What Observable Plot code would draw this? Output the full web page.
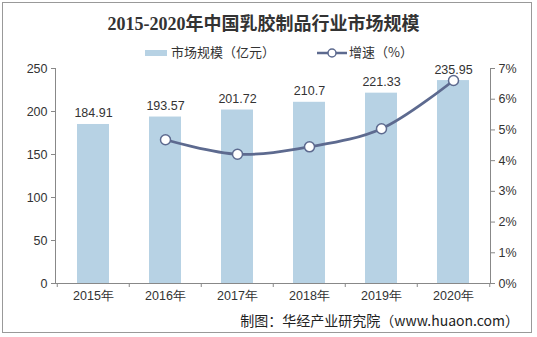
<!DOCTYPE html>
<html><head><meta charset="utf-8">
<script src="https://cdn.jsdelivr.net/npm/d3@7"></script>
<script src="https://cdn.jsdelivr.net/npm/@observablehq/plot@0.6"></script>
<style>
body{margin:0;background:#fff;}
#wrap{position:relative;width:537px;height:337px;overflow:hidden;font-family:"Liberation Sans","Noto Sans CJK SC",sans-serif;}
#frame{position:absolute;left:2px;top:2px;width:530px;height:331px;border:1px solid #999;box-sizing:border-box;}
#title{position:absolute;left:0;width:527px;top:9px;text-align:center;font-family:"Liberation Serif","Noto Sans CJK SC",serif;font-weight:bold;font-size:18px;color:#333;}
.leg{position:absolute;top:43px;font-size:13px;color:#333;font-family:"Noto Sans CJK SC",sans-serif;line-height:18px;}
#cap{position:absolute;right:18px;top:310px;font-size:14px;color:#222;font-family:"Noto Sans CJK SC",sans-serif;}
#chart{position:absolute;left:0;top:0;}
</style></head>
<body>
<div id="wrap">
  <div id="chart"></div>
  <div id="frame"></div>
  <div id="title"></div>
  <div class="leg" style="left:145px"><span style="display:inline-block;width:22px;height:6px;background:#b7d2e4;vertical-align:middle;margin-right:4px"></span><span id="leg1"></span></div>
  <div class="leg" style="left:317px"><svg width="30" height="12" style="vertical-align:middle;margin-right:2px"><line x1="0" y1="6" x2="30" y2="6" stroke="#5d6a8f" stroke-width="2.5"/><circle cx="15" cy="6" r="4" fill="#fff" stroke="#5d6a8f" stroke-width="1.5"/></svg><span id="leg2"></span></div>
  <div id="cap"></div>
</div>
<script>
const titleText = "2015-2020年中国乳胶制品行业市场规模";
const seriesNames = ["市场规模（亿元）", "增速（%）"];
const caption = "制图：华经产业研究院（www.huaon.com）";
const years = ["2015年","2016年","2017年","2018年","2019年","2020年"];
const scale = [184.91, 193.57, 201.72, 210.7, 221.33, 235.95];
const scaleLabels = ["184.91","193.57","201.72","210.7","221.33","235.95"];
const growthYears = ["2016年","2017年","2018年","2019年","2020年"];
const growth = [4.68, 4.21, 4.45, 5.04, 6.61];
const leftTicks = [0, 50, 100, 150, 200, 250];
const rightTicks = [0, 1, 2, 3, 4, 5, 6, 7];

document.getElementById("title").textContent = titleText;
document.getElementById("leg1").textContent = seriesNames[0];
document.getElementById("leg2").textContent = seriesNames[1];
document.getElementById("cap").textContent = caption;

const yMax = 250, gMax = 7;
const toLeft = g => g * yMax / gMax;
const bars = years.map((y, i) => ({year: y, value: scale[i], label: scaleLabels[i]}));
const line = growthYears.map((y, i) => ({year: y, g: growth[i]}));
const W = 537, H = 337, mL = 55, mR = 47;
const step = (W - mL - mR) / years.length;
const col = "#5d6a8f";

const plot = Plot.plot({
  width: W, height: H,
  marginTop: 68, marginBottom: 54, marginLeft: mL, marginRight: mR,
  style: {fontFamily: "Liberation Sans, Arial, sans-serif", fontSize: "12px", color: "#333", background: "transparent"},
  x: {domain: years, padding: 0.56, paddingOuter: 0.28, align: 0.5},
  y: {domain: [0, yMax]},
  marks: [
    Plot.barY(bars, {x: "year", y: "value", fill: "#b7d2e4"}),
    Plot.text(bars, {x: "year", y: "value", text: "label", dy: -11, fill: "#333", fontSize: 12.5}),
    Plot.frame({anchor: "left", stroke: "#888"}),
    Plot.frame({anchor: "right", stroke: "#888"}),
    Plot.frame({anchor: "bottom", stroke: "#888"}),
    Plot.axisY(leftTicks, {anchor: "left", tickSize: 4, tickPadding: 4, stroke: "#888", fill: "#333", fontSize: 12.5, label: null}),
    Plot.axisY(rightTicks.map(toLeft), {anchor: "right", tickSize: 4, tickPadding: 4, stroke: "#888", fill: "#333", fontSize: 12.5, label: null, tickFormat: d => Math.round(d * gMax / yMax) + "%"}),
    Plot.axisX({tickSize: 0, tickPadding: 8, fill: "#333", fontSize: 12.5, label: null}),
    Plot.ruleX(years, {x: d => d, dx: -step / 2, y1: 0, y2: 0, insetBottom: -4, stroke: "#888"}),
    Plot.ruleX(years.slice(-1), {x: d => d, dx: step / 2, y1: 0, y2: 0, insetBottom: -4, stroke: "#888"}),
    Plot.line(line, {x: "year", y: d => toLeft(d.g), stroke: col, strokeWidth: 2.8, curve: "catmull-rom"}),
    Plot.dot(line, {x: "year", y: d => toLeft(d.g), r: 5, fill: "#fff", stroke: col, strokeWidth: 1.5})
  ]
});
document.getElementById("chart").appendChild(plot);
</script>
</body></html>
